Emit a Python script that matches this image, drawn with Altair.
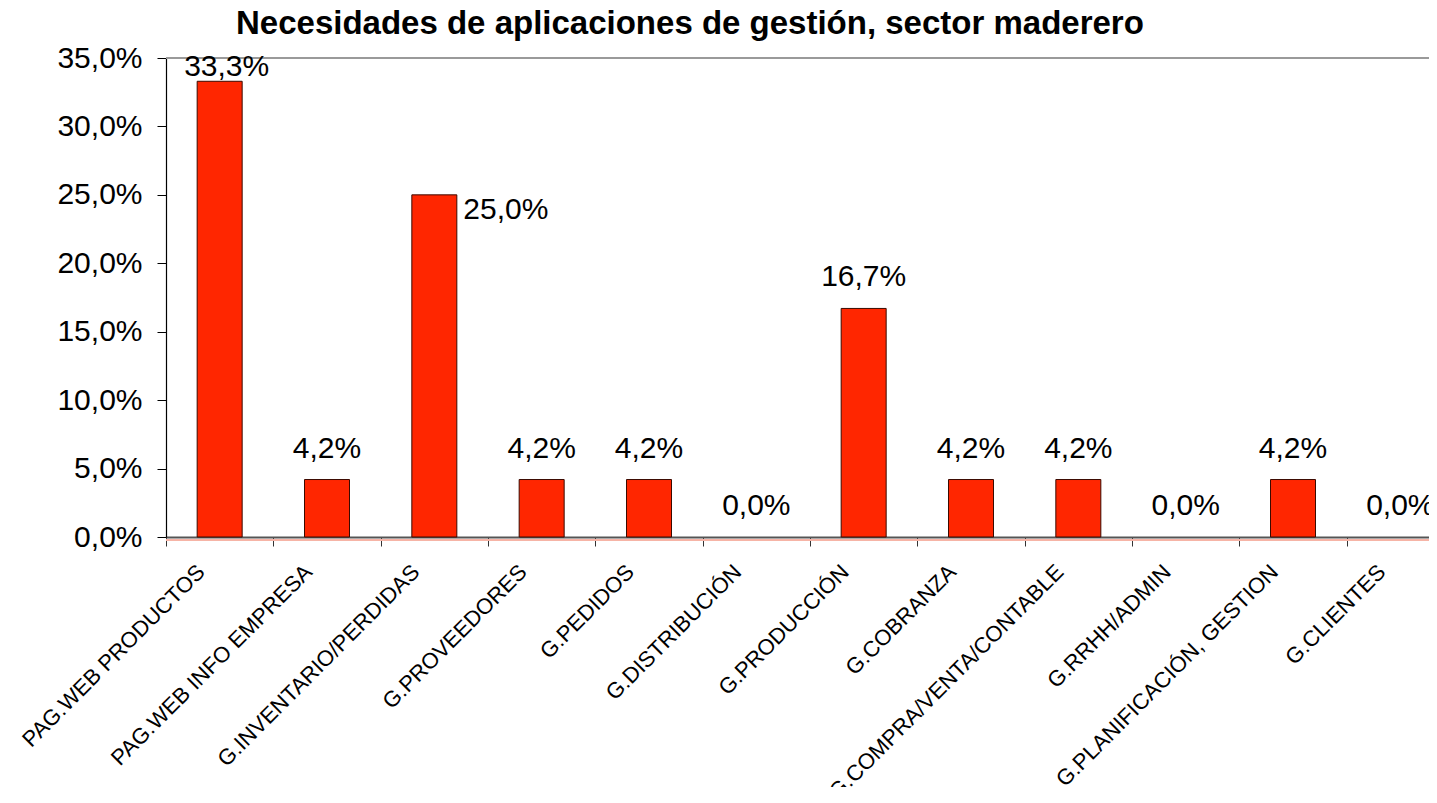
import altair as alt
import pandas as pd

categories = [
    "PAG.WEB PRODUCTOS", "PAG.WEB INFO EMPRESA", "G.INVENTARIO/PERDIDAS",
    "G.PROVEEDORES", "G.PEDIDOS", "G.DISTRIBUCIÓN", "G.PRODUCCIÓN",
    "G.COBRANZA", "G.COMPRA/VENTA/CONTABLE", "G.RRHH/ADMIN",
    "G.PLANIFICACIÓN, GESTION", "G.CLIENTES",
]
values = [33.3, 4.2, 25.0, 4.2, 4.2, 0.0, 16.7, 4.2, 4.2, 0.0, 4.2, 0.0]
y_ticks = [0, 5, 10, 15, 20, 25, 30, 35]

df = pd.DataFrame({"cat": categories, "val": values})

FONT = "Liberation Sans"
fmt = "replace(format(datum.val, '.1f'), '.', ',') + '%'"

x_enc = alt.X(
    "cat:N", sort=categories, title=None,
    scale=alt.Scale(range=[0, 1288], paddingInner=0, paddingOuter=0),
    axis=alt.Axis(
        labelAngle=-45, labelAlign="right", labelBaseline="middle",
        labelFont=FONT, labelFontSize=22, labelColor="#000",
        labelPadding=22, labelOffset=-19, labelOverlap=False, labelLimit=0,
        tickBand="extent", tickSize=9, tickColor="#333", tickWidth=1,
        domainColor="#555", domainWidth=2, grid=False,
    ),
)
y_enc = alt.Y(
    "val:Q", title=None,
    scale=alt.Scale(domain=[0, 35], nice=False, zero=True),
    axis=alt.Axis(
        values=y_ticks, labelExpr="replace(format(datum.value, '.1f'), '.', ',') + '%'",
        labelFont=FONT, labelFontSize=30, labelColor="#000", labelPadding=15,
        tickSize=9, tickColor="#000", domainColor="#000", domainWidth=1.2,
        grid=False,
    ),
)

base = alt.Chart(df)

grid = base.mark_rule(color="#999", strokeWidth=1.2).encode(y=alt.datum(35))
pink = base.mark_rule(color="#f6b3a6", strokeWidth=1, yOffset=3).encode(y=alt.datum(0))

bars = base.mark_bar(size=45, color="#FF2600", stroke="#3a0a00").encode(
    x=x_enc, y=y_enc,
    strokeWidth=alt.condition("datum.val > 0", alt.value(1), alt.value(0)),
    opacity=alt.condition("datum.val > 0", alt.value(1), alt.value(0)),
)

txt_props = dict(font=FONT, fontSize=30, color="#000", baseline="alphabetic")

normal = base.transform_filter(
    "datum.cat != 'PAG.WEB PRODUCTOS' && datum.cat != 'G.INVENTARIO/PERDIDAS'"
).transform_calculate(label=fmt).mark_text(dy=-22, **txt_props).encode(
    x=alt.X("cat:N", sort=categories), y="val:Q", text="label:N"
)
top = base.transform_filter("datum.cat == 'PAG.WEB PRODUCTOS'").transform_calculate(
    label=fmt
).mark_text(dy=-5, dx=7, **txt_props).encode(
    x=alt.X("cat:N", sort=categories), y="val:Q", text="label:N"
)
side = base.transform_filter("datum.cat == 'G.INVENTARIO/PERDIDAS'").transform_calculate(
    label=fmt
).mark_text(dy=24, dx=29, align="left", **txt_props).encode(
    x=alt.X("cat:N", sort=categories), y="val:Q", text="label:N"
)

chart = alt.layer(grid, pink, bars, normal, top, side).properties(
    width=1263,
    height=479,
    autosize=alt.AutoSizeParams(type="none"),
    padding={"left": 158, "top": 50, "right": 0, "bottom": 250},
    title=alt.TitleParams(
        "Necesidades de aplicaciones de gestión, sector maderero",
        font=FONT, fontSize=33, fontWeight="bold", color="#000",
        anchor="start", dx=218, dy=49, offset=25, baseline="alphabetic",
    ),
).configure_view(stroke=None)

chart.save("out.html", embed_options={"renderer": "svg", "actions": False})
